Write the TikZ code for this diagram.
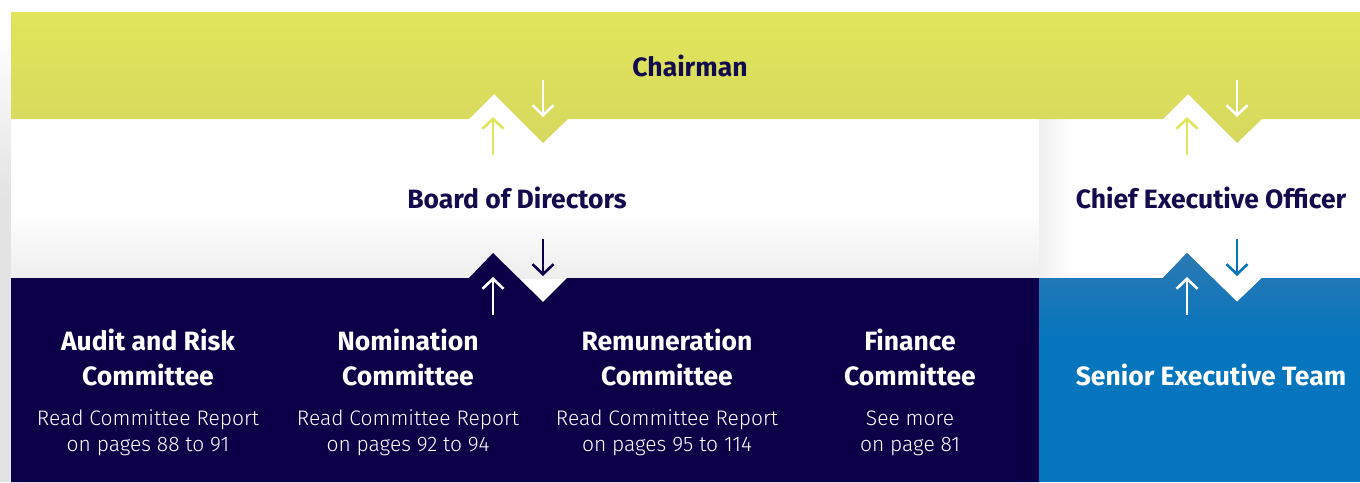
\documentclass[tikz,border=0pt]{standalone}
\usepackage{fontspec}
\setmainfont{Fira Sans}
\newfontfamily\lightfont{Fira Sans Light}
\usetikzlibrary{arrows.meta}
\definecolor{lime}{HTML}{E0E55A}
\definecolor{limedark}{HTML}{D6D85E}
\definecolor{navy}{HTML}{0B0048}
\definecolor{navytext}{HTML}{120C4E}
\definecolor{corpblue}{HTML}{0575BD}
\definecolor{corpbluetop}{HTML}{2C79B3}
\definecolor{shadowgray}{HTML}{EEEEEE}
\definecolor{edgegray}{HTML}{E3E3E3}
\tikzset{
  flow/.style={line width=2.6pt, -{Straight Barb[length=10pt,width=21pt]}},
  heading/.style={anchor=base, font=\bfseries\fontsize{26.5}{30}\selectfont, inner sep=0pt},
  note/.style={anchor=base, font=\lightfont\fontsize{21}{25}\selectfont, text=white, inner sep=0pt},
}
\begin{document}
\begin{tikzpicture}[x=1pt,y=-1pt]
\useasboundingbox (0,0) rectangle (1360,482);
% background with soft shadows
\fill[white] (0,0) rectangle (1360,482);
\shade[top color=white, bottom color=edgegray] (0,30) rectangle (11,200);
\fill[edgegray] (0,199.5) rectangle (11,482);
\fill[white] (11,119) rectangle (1039,278);
\shade[top color=white, bottom color=shadowgray] (11,210) rectangle (1039,278);
\shade[left color=shadowgray, right color=white] (1039,119) rectangle (1072,278);
\draw[shadowgray!80!gray!40, line width=0.6pt] (1039,119) -- (1039,278);
% chairman band
\shade[top color=lime, bottom color=limedark]
  (11,12) -- (1360,12) -- (1360,119) -- (1262,119) -- (1237,143) -- (1188,94)
  -- (1163,119) -- (568,119) -- (543,143) -- (494,94) -- (469,119) -- (11,119) -- cycle;
% committees band
\fill[navy] (11,278) -- (469,278) -- (493,253) -- (543,302) -- (567,278)
  -- (1039,278) -- (1039,482) -- (11,482) -- cycle;
% executive team band, lighter towards the top
\begin{scope}
  \clip (1039,278) -- (1163,278) -- (1187,253) -- (1237,302) -- (1262,278)
    -- (1360,278) -- (1360,482) -- (1039,482) -- cycle;
  \fill[corpblue] (1039,250) rectangle (1360,482);
  \shade[top color=corpbluetop, bottom color=corpblue] (1039,252) rectangle (1360,340);
\end{scope}

% labels
\node[heading, text=navytext] (chair) at (690,76) {Chairman};
\node[heading, text=navytext] (board) at (517,208) {Board of Directors};
\node[heading, text=navytext] (ceo) at (1211,208) {Chief Executive Officer};
\node[heading, text=white] (set) at (1211,385) {Senior Executive Team};

\node[heading, text=white] (audit) at (148,350) {Audit and Risk};
\node[heading, text=white] (auditb) at (148,385) {Committee};
\node[note] (auditr) at (148,425) {Read Committee Report};
\node[note] (auditp) at (148,451) {on pages 88 to 91};

\node[heading, text=white] (nom) at (408,350) {Nomination};
\node[heading, text=white] (nomb) at (408,385) {Committee};
\node[note] (nomr) at (408,425) {Read Committee Report};
\node[note] (nomp) at (408,451) {on pages 92 to 94};

\node[heading, text=white] (rem) at (667,350) {Remuneration};
\node[heading, text=white] (remb) at (667,385) {Committee};
\node[note] (remr) at (667,425) {Read Committee Report};
\node[note] (remp) at (667,451) {on pages 95 to 114};

\node[heading, text=white] (fin) at (910,350) {Finance};
\node[heading, text=white] (finb) at (910,385) {Committee};
\node[note] (finr) at (910,425) {See more};
\node[note] (finp) at (910,451) {on page 81};

% reporting arrows at the chevrons
\coordinate (bdUpA) at (493,155); \coordinate (bdUpB) at (493,117);
\coordinate (chDnA) at (543,80);  \coordinate (chDnB) at (543,117);
\coordinate (cmUpA) at (493,315); \coordinate (cmUpB) at (493,277);
\coordinate (bdDnA) at (543,239); \coordinate (bdDnB) at (543,276);
\coordinate (ceUpA) at (1187,155); \coordinate (ceUpB) at (1187,117);
\coordinate (chDnC) at (1237,80);  \coordinate (chDnD) at (1237,117);
\coordinate (seUpA) at (1187,315); \coordinate (seUpB) at (1187,277);
\coordinate (ceDnA) at (1237,239); \coordinate (ceDnB) at (1237,276);

\draw[flow, draw=lime] (bdUpA) -- (bdUpB);
\draw[flow, draw=white] (chDnA) -- (chDnB);
\draw[flow, draw=white] (cmUpA) -- (cmUpB);
\draw[flow, draw=navy] (bdDnA) -- (bdDnB);
\draw[flow, draw=lime] (ceUpA) -- (ceUpB);
\draw[flow, draw=white] (chDnC) -- (chDnD);
\draw[flow, draw=white] (seUpA) -- (seUpB);
\draw[flow, draw=corpblue] (ceDnA) -- (ceDnB);
\end{tikzpicture}
\end{document}
